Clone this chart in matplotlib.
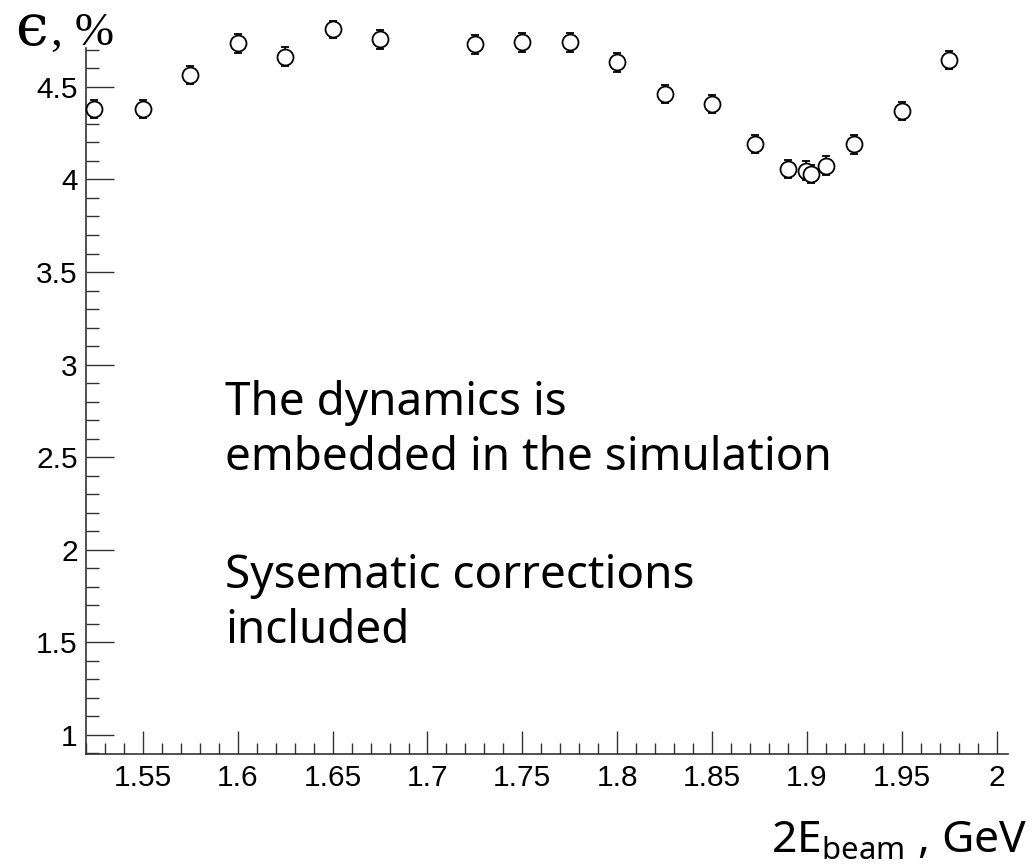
import matplotlib
matplotlib.use("Agg")
import matplotlib.pyplot as plt
from matplotlib.ticker import MultipleLocator, FormatStrFormatter

# beam energy (2E_beam, GeV) and efficiency (%)
energy = [1.524, 1.550, 1.575, 1.600, 1.625, 1.650, 1.675, 1.725, 1.750, 1.775,
          1.800, 1.825, 1.850, 1.8725, 1.890, 1.8995, 1.902, 1.910, 1.925, 1.950, 1.975]
eff = [4.381, 4.381, 4.565, 4.736, 4.664, 4.810, 4.757, 4.730, 4.741, 4.741,
       4.633, 4.462, 4.408, 4.192, 4.057, 4.048, 4.030, 4.075, 4.190, 4.370, 4.646]
eff_err = [0.047, 0.047, 0.05, 0.052, 0.05, 0.048, 0.05, 0.05, 0.05, 0.05,
           0.05, 0.05, 0.05, 0.05, 0.05, 0.05, 0.05, 0.05, 0.05, 0.05, 0.05]

plt.rcParams['font.family'] = 'Liberation Sans'
plt.rcParams['mathtext.fontset'] = 'custom'
plt.rcParams['mathtext.rm'] = 'Noto Sans'

W, H = 1033, 867
fig = plt.figure(figsize=(W / 100, H / 100), dpi=100)
# axes frame in pixels: left 86, right 1008, bottom 754, top 48
ax = fig.add_axes([86 / W, 1 - 754 / H, (1008 - 86) / W, (754 - 48) / H])

ax.errorbar(energy, eff, yerr=eff_err, fmt='o', ms=11.5, mfc='white', mec='black',
            mew=1.3, ecolor='black', elinewidth=1.2, capsize=3, capthick=1.2,
            clip_on=False, zorder=3)

ax.set_xlim(1.52, 2.006)
ax.set_ylim(0.897, 4.71)

for side in ['top', 'right']:
    ax.spines[side].set_visible(False)
for side in ['left', 'bottom']:
    ax.spines[side].set_linewidth(1.2)
    ax.spines[side].set_color('#333333')

ax.xaxis.set_major_locator(MultipleLocator(0.05))
ax.xaxis.set_minor_locator(MultipleLocator(0.01))
ax.yaxis.set_major_locator(MultipleLocator(0.5))
ax.yaxis.set_minor_locator(MultipleLocator(0.1))
ax.xaxis.set_major_formatter(FormatStrFormatter('%g'))
ax.yaxis.set_major_formatter(FormatStrFormatter('%g'))

ax.tick_params(axis='x', which='major', direction='in', length=16.5, width=1,
               color='#333333', pad=7, labelsize=21.5)
ax.tick_params(axis='x', which='minor', direction='in', length=8, width=1, color='#333333')
ax.tick_params(axis='y', which='major', direction='in', length=20, width=1,
               color='#333333', pad=6, labelsize=21.5)
ax.tick_params(axis='y', which='minor', direction='in', length=9.4, width=1, color='#333333')

# annotations
fig.text(225 / W, 1 - 470 / H, "The dynamics is\nembedded in the simulation",
         fontsize=33, family='Noto Sans', va='baseline', ha='left', linespacing=1.27)
fig.text(225 / W, 1 - 643 / H, "Sysematic corrections\nincluded",
         fontsize=33, family='Noto Sans', va='baseline', ha='left', linespacing=1.27)

# axis titles
fig.text(15 / W, 1 - 45 / H, "\u03f5", fontsize=42, family=['DejaVu Serif'],
         va='baseline', ha='left')
fig.text(51 / W, 1 - 45 / H, ", %", fontsize=34, family=['Liberation Serif', 'DejaVu Serif'],
         va='baseline', ha='left')
fig.text(1027 / W, 1 - 853 / H, r"2E$_{\mathrm{beam}}$ , GeV", fontsize=32,
         family='Noto Sans', va='baseline', ha='right')

fig.savefig("out.png", dpi=100)
